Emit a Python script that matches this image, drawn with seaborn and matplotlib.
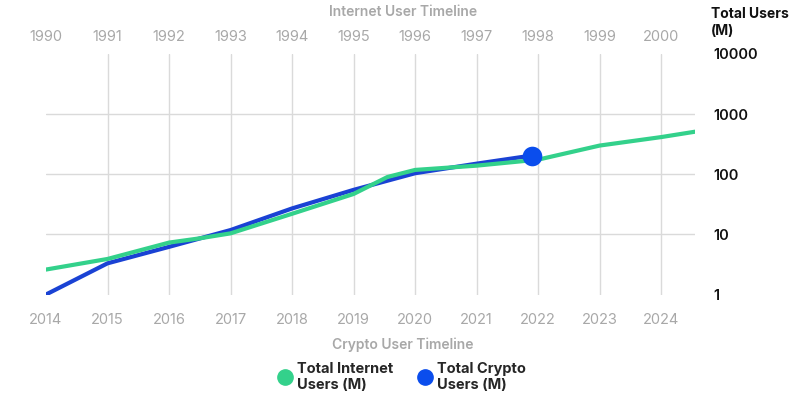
import numpy as np
import pandas as pd
import matplotlib
matplotlib.use('Agg')
import matplotlib.pyplot as plt
from matplotlib.lines import Line2D
import seaborn as sns

# values (millions of users, log scale)
internet_x = [2014, 2015, 2016, 2016.5, 2017, 2018, 2019, 2019.55, 2020, 2021, 2022, 2023, 2024, 2024.55]
internet_users = [2.6, 3.9, 7.3, 8.6, 10.4, 22, 47, 90, 118, 139, 175, 300, 415, 510]

crypto_x = [2014, 2015, 2016, 2017, 2018, 2019, 2020, 2021, 2021.9]
crypto_users = [1.0, 3.3, 6.2, 11.8, 27, 55, 104, 150, 205]

crypto_years = list(range(2014, 2025))
internet_years = list(range(1990, 2001))
y_ticks = [1, 10, 100, 1000, 10000]

GREEN = '#33d18b'
BLUE_LINE = '#1a42d4'
BLUE_DOT = '#0a4ded'
GREY = '#a8a8a8'
GRID = '#dadada'

sns.set_theme(style='white')
plt.rcParams['font.family'] = ['Inter', 'DejaVu Sans']

df_int = pd.DataFrame({'year': internet_x, 'users': internet_users})
df_cry = pd.DataFrame({'year': crypto_x, 'users': crypto_users})

fig = plt.figure(figsize=(8.09, 3.98), dpi=100)
ax = fig.add_axes([46 / 809, 1 - 294.5 / 398, 649 / 809, 240.5 / 398])

ax.set_yscale('log')
ax.set_xlim(2014, 2024.55)
ax.set_ylim(1, 10000)

# gridlines: vertical at 2015..2024, horizontal at 10, 100, 1000
for yr in crypto_years[1:]:
    ax.axvline(yr, color=GRID, lw=1.0, zorder=0)
for v in [10, 100, 1000]:
    ax.axhline(v, color=GRID, lw=1.0, zorder=0)

sns.lineplot(data=df_int, x='year', y='users', color=GREEN, lw=3, ax=ax, zorder=3)
sns.lineplot(data=df_cry, x='year', y='users', color=BLUE_LINE, lw=3, ax=ax, zorder=2)
ax.scatter(crypto_x[-1:], crypto_users[-1:], s=200, color=BLUE_DOT, zorder=4, linewidths=0)

for s in ax.spines.values():
    s.set_visible(False)
ax.grid(False)
ax.set_xlabel('')
ax.set_ylabel('')

ax.set_xticks(crypto_years)
ax.set_xticklabels([str(y) for y in crypto_years], color=GREY, fontsize=10.5)
ax.tick_params(axis='x', length=0, pad=13)

ax.yaxis.tick_right()
ax.set_yticks(y_ticks)
ax.set_yticklabels([str(v) for v in y_ticks], fontsize=10.5, fontweight='semibold', color='#111111')
ax.tick_params(axis='y', length=0, pad=13)
ax.minorticks_off()

top = ax.twiny()
top.set_xlim(ax.get_xlim())
top.set_xticks(crypto_years)
top.set_xticklabels([str(y) for y in internet_years], color=GREY, fontsize=10.5)
top.tick_params(axis='x', length=0, pad=7)
for s in top.spines.values():
    s.set_visible(False)
top.grid(False)

fig.text(403 / 809, 1 - 12 / 398, 'Internet User Timeline', ha='center', va='center',
         color=GREY, fontsize=10, fontweight='semibold')
fig.text(403 / 809, 1 - 345 / 398, 'Crypto User Timeline', ha='center', va='center',
         color=GREY, fontsize=10, fontweight='semibold')
fig.text(711 / 809, 1 - 7 / 398, 'Total Users\n(M)', ha='left', va='top',
         color='#111111', fontsize=10, fontweight='bold', linespacing=1.25)

handles = [Line2D([], [], marker='o', ls='', markersize=11, color=GREEN),
           Line2D([], [], marker='o', ls='', markersize=11, color=BLUE_DOT)]
fig.legend(handles, ['Total Internet\nUsers (M)', 'Total Crypto\nUsers (M)'],
           loc='center', bbox_to_anchor=(401 / 809, 1 - 377 / 398), ncol=2, frameon=False,
           prop={'size': 10.5, 'weight': 'bold'}, handletextpad=0.2, columnspacing=1.6,
           handlelength=1.2)

fig.savefig('out.png', dpi=100)
